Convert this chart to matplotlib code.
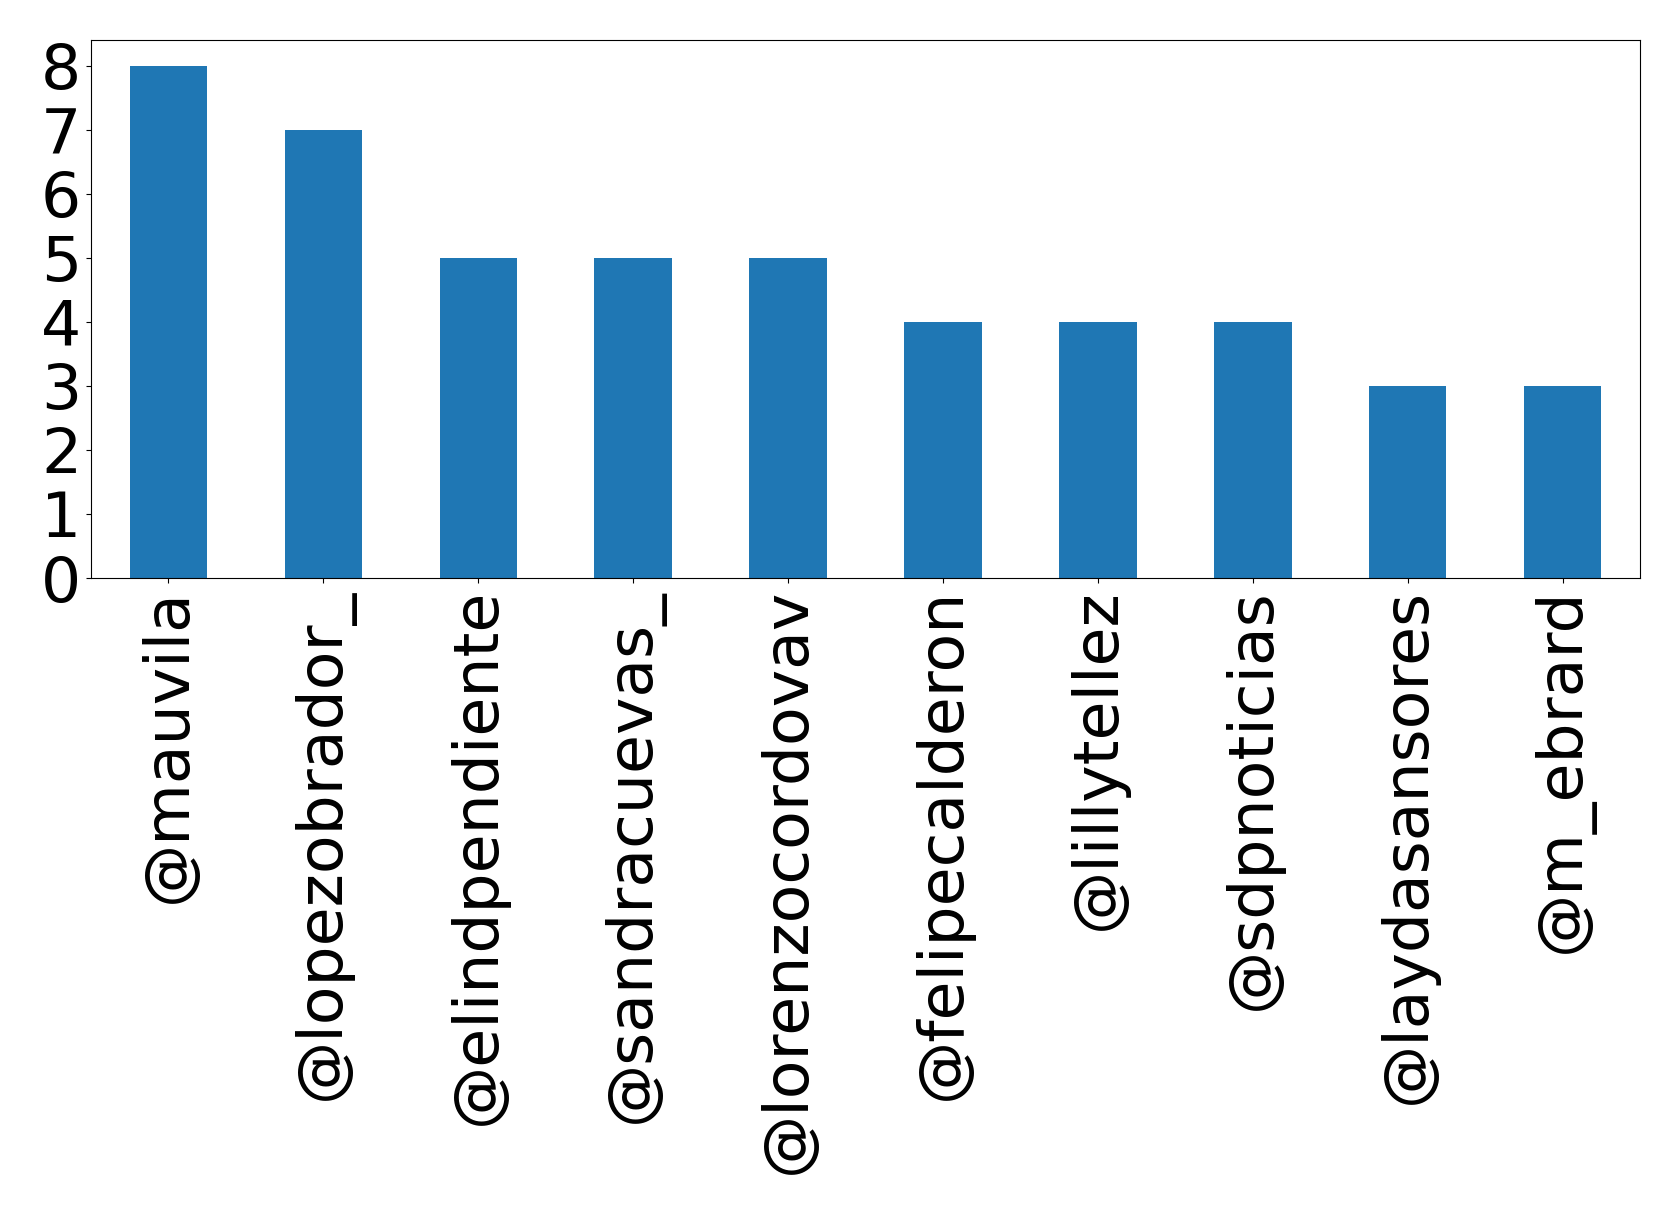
import matplotlib
matplotlib.use('Agg')
import matplotlib.pyplot as plt
import numpy as np

# Mentions per account
accounts = ['@mauvila', '@lopezobrador_', '@elindpendiente', '@sandracuevas_',
            '@lorenzocordovav', '@felipecalderon', '@lillytellez', '@sdpnoticias',
            '@laydasansores', '@m_ebrard']
counts = [8, 7, 5, 5, 5, 4, 4, 4, 3, 3]

fig = plt.figure(figsize=(16.79, 12.07), dpi=100)
ax = fig.add_axes([0.0542, 0.5211, 0.9226, 0.4458])

x = np.arange(len(accounts))
ax.bar(x, counts, width=0.5, color='#1f77b4')

ax.set_xlim(-0.5, len(accounts) - 0.5)
ax.set_ylim(0, 8.4)
ax.set_xticks(x)
ax.set_xticklabels(accounts, rotation=90, fontsize=45.5)
ax.set_yticks(range(0, 9))
ax.tick_params(axis='y', labelsize=45.5)

plt.savefig('out.png', dpi=100)
plt.close()
